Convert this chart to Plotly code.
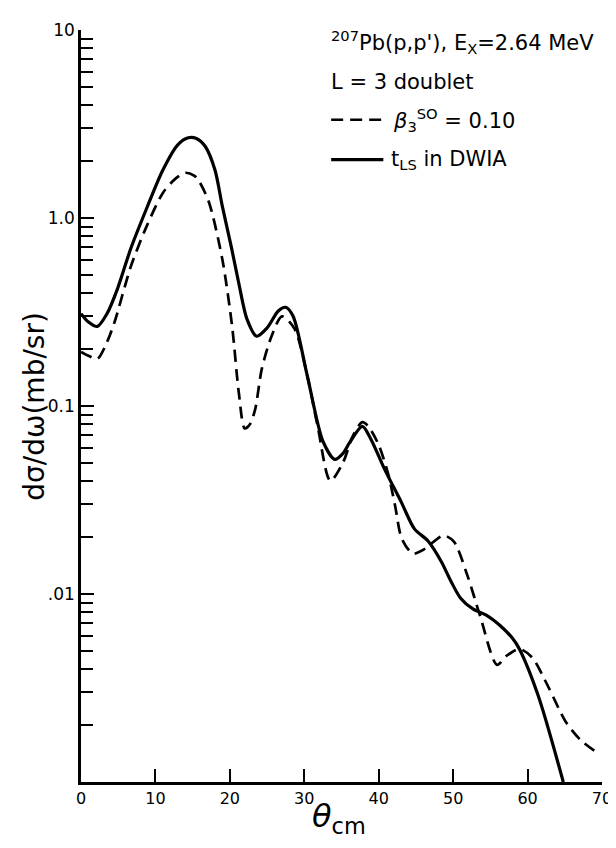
import plotly.graph_objects as go

# ---- data ----
theta_solid = [0, 1, 2.2, 3.5, 4.9, 6.7, 8.8, 11, 13, 14.4, 15.5, 16.7, 18, 19, 20.2, 21.2,
               22.3, 23.6, 25, 26.5, 27.5, 28.5, 30.4, 32.5, 34.1, 35.2, 36.1, 37.8, 39,
               40.8, 43, 44.8, 46.6, 48.4, 49.7, 51.0, 52.7, 54.5, 56.3, 58.0, 58.9, 61.4, 64.8]
xs_solid = [0.31, 0.28, 0.265, 0.31, 0.42, 0.69, 1.12, 1.8, 2.45, 2.67, 2.65, 2.4, 1.8, 1.15,
            0.7, 0.45, 0.29, 0.235, 0.26, 0.32, 0.335, 0.3, 0.145, 0.065, 0.052, 0.056, 0.064,
            0.078, 0.066, 0.046, 0.031, 0.0222, 0.0192, 0.0149, 0.0117, 0.0095, 0.0083, 0.0077,
            0.0068, 0.0058, 0.0051, 0.0029, 0.001]

theta_dash = [0, 1, 2.2, 3.3, 4.5, 6.7, 8.8, 11, 12.7, 14, 15.2, 15.9, 17.2, 19, 20.3, 21.2,
              22.0, 22.7, 23.4, 24.3, 25.6, 27, 28.7, 30.5, 31.8, 33.5, 35.2, 36.5, 37.8, 38.6,
              40, 41.3, 42.2, 43.1, 44.6, 46, 47.4, 48.7, 50.1, 51.9, 53.6, 55.9, 57.2, 58.9,
              60.6, 62.8, 65.1, 67.2, 69.4]
xs_dash = [0.194, 0.185, 0.178, 0.21, 0.279, 0.553, 0.90, 1.36, 1.62, 1.74, 1.68, 1.56, 1.21,
           0.60, 0.266, 0.118, 0.076, 0.08, 0.096, 0.158, 0.235, 0.30, 0.257, 0.139, 0.078,
           0.040, 0.050, 0.069, 0.082, 0.078, 0.062, 0.043, 0.0295, 0.0197, 0.0164, 0.0172,
           0.019, 0.0205, 0.019, 0.0126, 0.0077, 0.0042, 0.0047, 0.0051, 0.0046, 0.0032,
           0.0021, 0.00166, 0.00143]

x_ticks = [0, 10, 20, 30, 40, 50, 60, 70]
y_ticks = [0.01, 0.1, 1, 10]
y_ticktext = [".01", "0.1", "1.0", "10"]
y_minor = [m * 10 ** e for e in (-3, -2, -1, 0) for m in range(2, 10)]

# ---- layout geometry (pixels) ----
W, H = 616, 848
L, R, T, B = 73, 14, 20, 74
pw, ph = W - L - R, H - T - B


def px(x):
    return (x - L) / pw


def py(y):
    return (H - B - y) / ph


FONT = "DejaVu Sans"

fig = go.Figure()
fig.add_trace(go.Scatter(x=theta_dash, y=xs_dash, mode="lines",
                         line=dict(color="black", width=2.7, dash="12px,7px",
                                   shape="spline", smoothing=0.8),
                         showlegend=False))
fig.add_trace(go.Scatter(x=theta_solid, y=xs_solid, mode="lines",
                         line=dict(color="black", width=3.2, shape="spline", smoothing=0.8),
                         showlegend=False))

fig.update_layout(
    width=W, height=H,
    margin=dict(l=L, r=R, t=T, b=B),
    paper_bgcolor="white", plot_bgcolor="white",
    font=dict(family=FONT, color="black"),
    xaxis=dict(range=[0, 70], tickvals=x_ticks, ticks="inside", ticklen=13, tickwidth=2,
               tickcolor="black", showline=True, linecolor="black", linewidth=2.5,
               showgrid=False, zeroline=False, tickfont=dict(size=16, family=FONT)),
    yaxis=dict(type="log", range=[-3, 1], tickvals=y_ticks, ticktext=y_ticktext,
               ticks="inside", ticklen=13, tickwidth=2, tickcolor="black",
               showline=True, linecolor="black", linewidth=2.5, showgrid=False,
               zeroline=False, tickfont=dict(size=17, family=FONT),
               minor=dict(tickvals=y_minor, ticks="inside", ticklen=12, tickwidth=2,
                          tickcolor="black", showgrid=False)),
)

# axis titles
fig.add_annotation(x=px(25), y=py(397), xref="paper", yref="paper", text="dσ/dω(mb/sr)",
                   textangle=-90, showarrow=False, font=dict(size=28, family=FONT),
                   xanchor="center", yanchor="middle")
fig.add_annotation(x=px(335), y=py(810), xref="paper", yref="paper",
                   text="<i>θ</i><sub>cm</sub>", showarrow=False,
                   font=dict(size=32, family=FONT), xanchor="center", yanchor="middle")

# legend text
fs = 21
fig.add_annotation(x=px(325), y=py(32), xref="paper", yref="paper",
                   text="<sup>207</sup>Pb(p,p'), E<sub>X</sub>=2.64 MeV", showarrow=False,
                   font=dict(size=fs, family=FONT), xanchor="left", yanchor="middle")
fig.add_annotation(x=px(325), y=py(72), xref="paper", yref="paper",
                   text="L = 3 doublet", showarrow=False,
                   font=dict(size=fs, family=FONT), xanchor="left", yanchor="middle")
fig.add_annotation(x=px(388), y=py(110), xref="paper", yref="paper",
                   text="<i>β</i><sub>3</sub><sup>SO</sup> = 0.10", showarrow=False,
                   font=dict(size=fs, family=FONT), xanchor="left", yanchor="middle")
fig.add_annotation(x=px(386), y=py(150), xref="paper", yref="paper",
                   text="t<sub>LS</sub> in DWIA", showarrow=False,
                   font=dict(size=fs, family=FONT), xanchor="left", yanchor="middle")
fig.add_shape(type="line", xref="paper", yref="paper", x0=px(327), x1=px(383),
              y0=py(110), y1=py(110), line=dict(color="black", width=2.7, dash="12px,7px"))
fig.add_shape(type="line", xref="paper", yref="paper", x0=px(327), x1=px(380),
              y0=py(150), y1=py(150), line=dict(color="black", width=3.2))

fig.write_html("out.html")
